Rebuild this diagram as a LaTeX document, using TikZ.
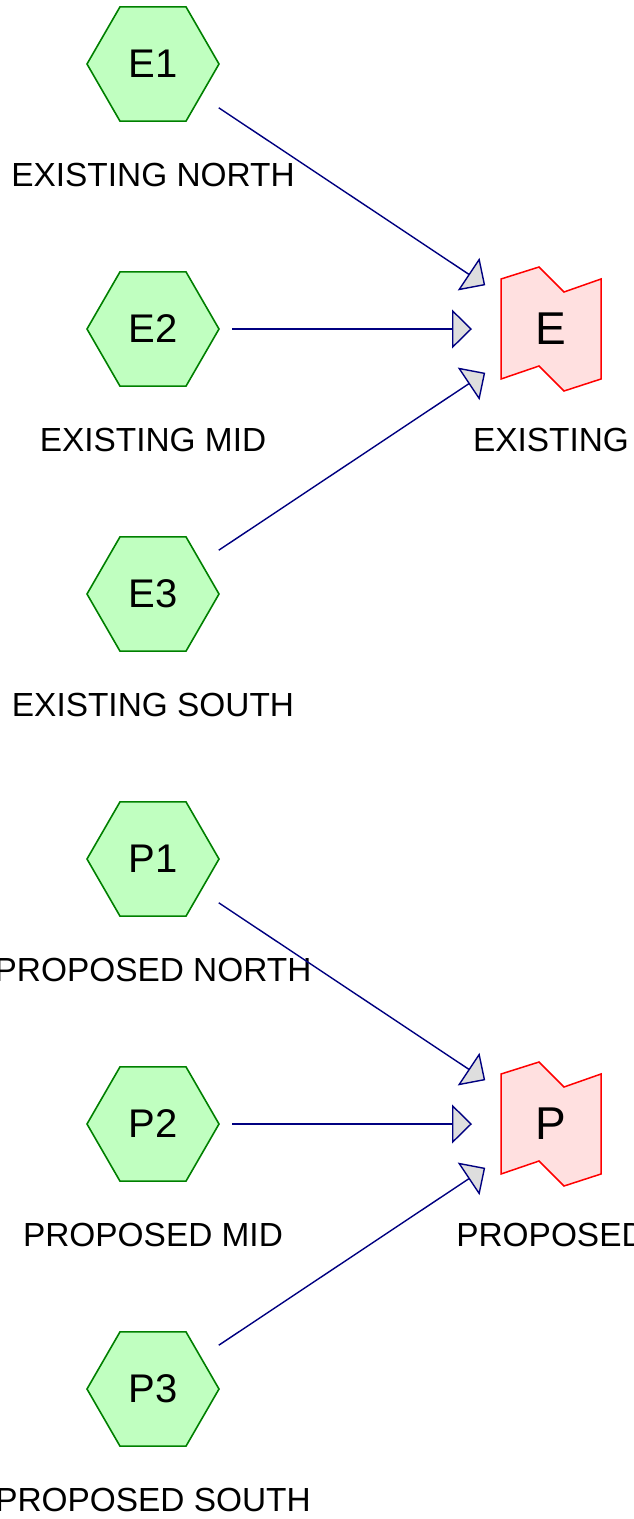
\documentclass[tikz,border=0pt]{standalone}
\usepackage{fontspec}
\setmainfont{Liberation Sans}
\usetikzlibrary{shapes.geometric,arrows.meta}

\definecolor{hexfill}{RGB}{192,255,192}
\definecolor{hexline}{RGB}{0,128,0}
\definecolor{flagfill}{RGB}{255,224,224}
\definecolor{flagline}{RGB}{255,0,0}
\definecolor{linknavy}{RGB}{0,0,128}
\definecolor{tipfill}{RGB}{222,222,222}

\tikzset{
  hexnode/.style={regular polygon, regular polygon sides=6, minimum size=132pt,
    inner sep=0pt, outer sep=0pt, fill=hexfill, draw=hexline, line width=1.6pt,
    font=\fontsize{40}{46}\selectfont},
  flagnode/.style={rectangle, minimum size=100pt, inner sep=0pt, outer sep=0pt,
    font=\fontsize{46}{52}\selectfont},
  flagshape/.style={fill=flagfill, draw=flagline, line width=1.5pt, line join=miter},
  lbl/.style={anchor=base, inner sep=0pt, font=\fontsize{33.4}{40}\selectfont},
  link/.style={draw=linknavy, line width=1.4pt,
    shorten <=79pt, shorten >=79pt,
    -{Triangle[length=20pt, width=39pt, fill=tipfill, line join=miter]}},
}

% flag outline around a centre point
\newcommand{\flagat}[1]{%
  \path[flagshape]
    ([shift={(-50,-50)}]#1) -- ([shift={(-12,-62)}]#1) -- ([shift={(13,-37)}]#1)
    -- ([shift={(50,-50)}]#1) -- ([shift={(50,50)}]#1) -- ([shift={(13,62)}]#1)
    -- ([shift={(-12,37)}]#1) -- ([shift={(-50,50)}]#1) -- cycle;}

\begin{document}
\begin{tikzpicture}[x=1pt, y=-1pt]
  \useasboundingbox (0,0) rectangle (633,1519);

  % existing group
  \node[hexnode] (E1) at (153,64) {E1};
  \node[hexnode] (E2) at (153,329) {E2};
  \node[hexnode] (E3) at (153,594) {E3};
  \node[lbl] (E1l) at (153,186.7) {EXISTING NORTH};
  \node[lbl] (E2l) at (153,451.7) {EXISTING MID};
  \node[lbl] (E3l) at (153,716.7) {EXISTING SOUTH};

  \coordinate (Ec) at (551,329);
  \flagat{Ec}
  \node[flagnode] (E) at (Ec) {E};
  \node[lbl] (El) at (551,451.7) {EXISTING};

  \draw[link] (E1.center) -- (E.center);
  \draw[link] (E2.center) -- (E.center);
  \draw[link] (E3.center) -- (E.center);

  % proposed group
  \node[hexnode] (P1) at (153,859) {P1};
  \node[hexnode] (P2) at (153,1124) {P2};
  \node[hexnode] (P3) at (153,1389) {P3};
  \node[lbl] (P1l) at (153,981.7) {PROPOSED NORTH};
  \node[lbl] (P2l) at (153,1246.7) {PROPOSED MID};
  \node[lbl] (P3l) at (153,1511.7) {PROPOSED SOUTH};

  \coordinate (Pc) at (551,1124);
  \flagat{Pc}
  \node[flagnode] (P) at (Pc) {P};
  \node[lbl] (Pl) at (551,1246.7) {PROPOSED};

  \draw[link] (P1.center) -- (P.center);
  \draw[link] (P2.center) -- (P.center);
  \draw[link] (P3.center) -- (P.center);
\end{tikzpicture}
\end{document}
